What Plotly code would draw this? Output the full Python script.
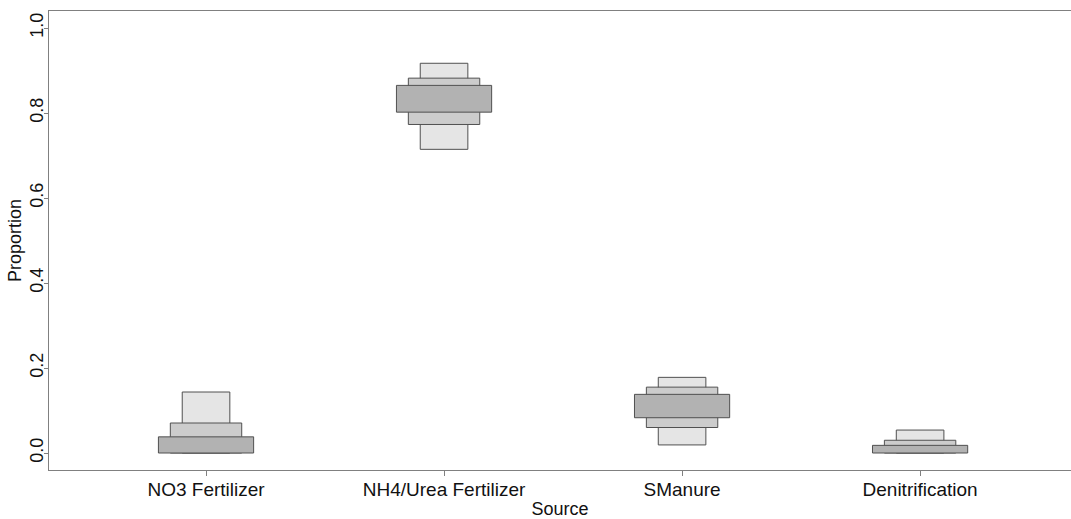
import plotly.graph_objects as go

# Source contributions: credible intervals (lower, upper) per source
sources = ["NO3 Fertilizer", "NH4/Urea Fertilizer", "SManure", "Denitrification"]
ci95_low = [0.000, 0.7145, 0.019, 0.000]
ci95_high = [0.1435, 0.917, 0.178, 0.054]
ci75_low = [0.000, 0.773, 0.060, 0.000]
ci75_high = [0.0706, 0.882, 0.155, 0.030]
ci50_low = [0.000, 0.802, 0.083, 0.000]
ci50_high = [0.038, 0.865, 0.138, 0.018]
y_ticks = [0.0, 0.2, 0.4, 0.6, 0.8, 1.0]

xpos = list(range(1, len(sources) + 1))

fig = go.Figure()

bands = [
    (ci95_low, ci95_high, 0.20, "#e5e5e5", "95%"),
    (ci75_low, ci75_high, 0.30, "#cccccc", "75%"),
    (ci50_low, ci50_high, 0.40, "#b2b2b2", "50%"),
]
for low, high, w, col, name in bands:
    fig.add_trace(go.Bar(
        x=xpos,
        base=low,
        y=[h - l for l, h in zip(low, high)],
        width=w,
        marker=dict(color=col, line=dict(color="#505050", width=1)),
        name=name,
        showlegend=False,
    ))

family = "Liberation Sans, Arial, sans-serif"
xtick_font = dict(family=family, size=19, color="#111111")
ytick_font = dict(family=family, size=18, color="#111111")
title_font = dict(family=family, size=18, color="#111111")

fig.update_layout(
    width=1071,
    height=519,
    margin=dict(l=49, r=0, t=11, b=49),
    plot_bgcolor="white",
    paper_bgcolor="white",
    barmode="overlay",
    font=title_font,
    xaxis=dict(
        range=[0.3403, 4.634],
        tickmode="array",
        tickvals=xpos,
        ticktext=sources,
        ticks="outside",
        ticklen=5,
        tickcolor="#808080",
        ticklabelstandoff=-3,
        showline=True,
        linecolor="#808080",
        linewidth=1,
        mirror=True,
        showgrid=False,
        zeroline=False,
        tickfont=xtick_font,
        title=dict(text="Source", font=title_font, standoff=7),
    ),
    yaxis=dict(
        range=[-0.04, 1.04],
        tickmode="array",
        tickvals=y_ticks,
        ticktext=[f"{v:.1f}" for v in y_ticks],
        tickangle=-90,
        ticks="outside",
        ticklen=4,
        tickcolor="#808080",
        ticklabelstandoff=-6,
        showline=True,
        linecolor="#808080",
        linewidth=1,
        showgrid=False,
        zeroline=False,
        tickfont=ytick_font,
        title=dict(text="Proportion", font=title_font, standoff=0),
    ),
)

fig.write_html("out.html")
